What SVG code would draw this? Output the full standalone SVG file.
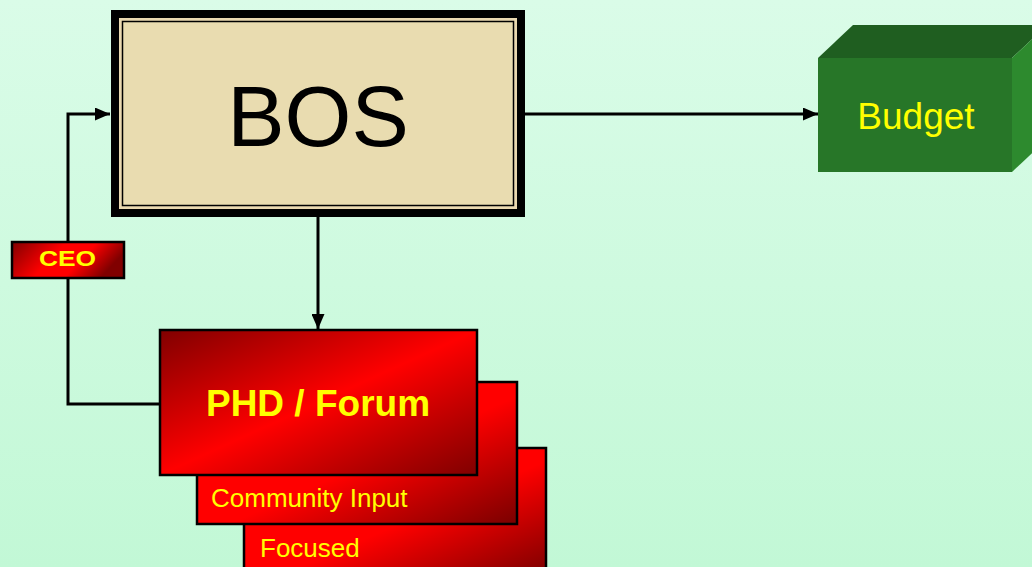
<svg xmlns="http://www.w3.org/2000/svg" width="1032" height="567" viewBox="0 0 1032 567">
<defs>
<linearGradient id="bg" x1="0" y1="0" x2="0" y2="1">
<stop offset="0" stop-color="#DAFCE8"/>
<stop offset="1" stop-color="#C2F8D6"/>
</linearGradient>
<linearGradient id="redDiag" x1="0" y1="0" x2="1" y2="1">
<stop offset="0" stop-color="#800000"/>
<stop offset="0.5" stop-color="#FF0000"/>
<stop offset="1" stop-color="#800000"/>
</linearGradient>
<linearGradient id="redCorner" x1="0" y1="0" x2="1" y2="1">
<stop offset="0" stop-color="#FF0000"/>
<stop offset="0.55" stop-color="#FF0000"/>
<stop offset="1" stop-color="#7A0000"/>
</linearGradient>
<linearGradient id="redCeo" x1="0" y1="0" x2="1" y2="0.3">
<stop offset="0" stop-color="#800000"/>
<stop offset="0.45" stop-color="#FF0000"/>
<stop offset="0.7" stop-color="#FF0000"/>
<stop offset="1" stop-color="#800000"/>
</linearGradient>
<marker id="arr" viewBox="0 0 15 13" refX="15" refY="6.5" markerWidth="15" markerHeight="13" markerUnits="userSpaceOnUse" orient="auto">
<path d="M0,0 L15,6.5 L0,13 Z" fill="#000"/>
</marker>
<style>
.conn{fill:none;stroke:#000;stroke-width:3}
.yb{font-family:"Liberation Sans",Arial,sans-serif;fill:#FFFF00;font-weight:bold}
.yr{font-family:"Liberation Sans",Arial,sans-serif;fill:#FFFF00}
.redbox{stroke:#000;stroke-width:2.5}
</style>
</defs>
<rect x="0" y="0" width="1032" height="567" fill="url(#bg)"/>
<g id="connectors">
<polyline class="conn" points="160,404 68,404 68,114 110,114" marker-end="url(#arr)"/>
<line class="conn" x1="525" y1="114" x2="818" y2="114" marker-end="url(#arr)"/>
<line class="conn" x1="318" y1="217" x2="318" y2="329" marker-end="url(#arr)"/>
</g>
<g id="focused">
<rect class="redbox" x="244" y="448" width="302" height="130" fill="url(#redCorner)"/>
<text class="yr" x="260" y="557" font-size="26">Focused</text>
</g>
<g id="community-input">
<rect class="redbox" x="197" y="382" width="320" height="142" fill="url(#redCorner)"/>
<text class="yr" x="211" y="507" font-size="26">Community Input</text>
</g>
<g id="phd-forum">
<rect class="redbox" x="160" y="330" width="317" height="145" fill="url(#redDiag)"/>
<text class="yb" x="318" y="416" font-size="37" text-anchor="middle">PHD / Forum</text>
</g>
<g id="ceo">
<rect class="redbox" x="12" y="242" width="112" height="36" fill="url(#redCeo)"/>
<text class="yb" x="39" y="266" font-size="22.5" textLength="57" lengthAdjust="spacingAndGlyphs">CEO</text>
</g>
<g id="bos">
<rect x="111" y="10" width="414" height="207" fill="#000"/>
<rect x="119" y="18" width="398" height="191" fill="#EAD9B0"/>
<rect x="122.5" y="21.5" width="391" height="184" fill="#E9DCB0" stroke="#000" stroke-width="1.5"/>
<text x="318" y="146" font-family="Liberation Sans,Arial,sans-serif" font-size="86" text-anchor="middle" fill="#000">BOS</text>
</g>
<g id="budget">
<polygon points="818,58 853,25 1047,25 1012,58" fill="#1F5E20"/>
<polygon points="1012,58 1047,25 1047,139 1012,172" fill="#2D8A2E"/>
<rect x="818" y="58" width="194" height="114" fill="#277628"/>
<text class="yr" x="916" y="129" font-size="37" text-anchor="middle">Budget</text>
</g>
</svg>
